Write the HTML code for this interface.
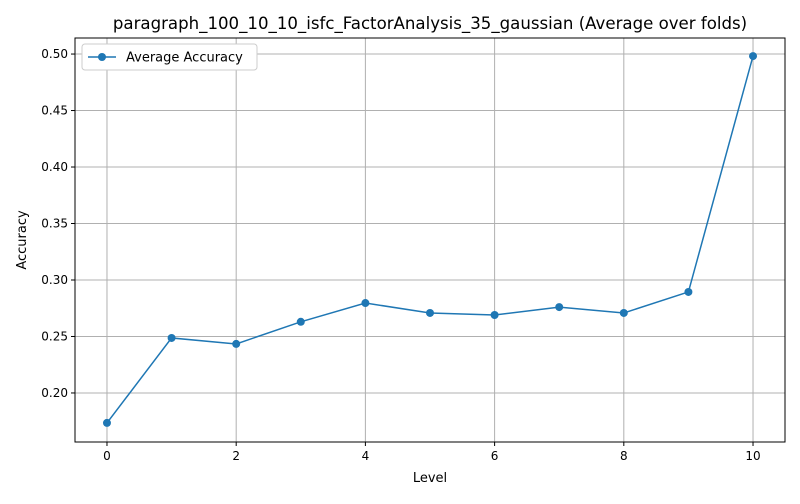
<!DOCTYPE html>
<html><head><meta charset="utf-8"><style>
body{margin:0;background:#fff;font-family:"DejaVu Sans","Liberation Sans",sans-serif;}
svg text{font-family:"DejaVu Sans","Liberation Sans",sans-serif;}
</style></head><body>
<svg id="chart" width="800" height="500">
<rect width="800" height="500" fill="#fff"/>
<g id="grid"></g><g id="axes"></g><g id="series"></g>
<text x="430" y="29" font-size="16.6" text-anchor="middle">paragraph_100_10_10_isfc_FactorAnalysis_35_gaussian (Average over folds)</text>
<text x="430" y="482" font-size="13" text-anchor="middle">Level</text>
<text x="26" y="240" font-size="13" text-anchor="middle" transform="rotate(-90 26 240)">Accuracy</text>
<g>
<rect x="82" y="44" width="175" height="26" fill="#fff" stroke="#ccc" rx="3"/>
<line x1="88" y1="57" x2="116" y2="57" stroke="#1f77b4" stroke-width="1.5"/>
<circle cx="102" cy="57" r="4" fill="#1f77b4"/>
<text x="126" y="61.5" font-size="13">Average Accuracy</text>
</g>
</svg>
<script>
const levels=[0,1,2,3,4,5,6,7,8,9,10];
const accuracy=[0.1735,0.2487,0.2434,0.263,0.2796,0.2708,0.269,0.276,0.2708,0.2894,0.4982];
const xTicks=[0,2,4,6,8,10];
const yTicks=[0.20,0.25,0.30,0.35,0.40,0.45,0.50];
const L=75,R=785,T=38,B=442,xmin=-0.495,xmax=10.495,ymin=0.1566,ymax=0.5142;
const sx=v=>L+(v-xmin)/(xmax-xmin)*(R-L);
const sy=v=>B-(v-ymin)/(ymax-ymin)*(B-T);
const NS="http://www.w3.org/2000/svg";
function mk(tag,attrs,parent){const e=document.createElementNS(NS,tag);for(const k in attrs)e.setAttribute(k,attrs[k]);parent.appendChild(e);return e;}
const grid=document.getElementById('grid'),axes=document.getElementById('axes'),ser=document.getElementById('series');
xTicks.forEach(t=>{const x=sx(t);
 const g=mk('line',{x1:x,x2:x,y1:T,y2:B,stroke:'#b0b0b0','stroke-width':1},grid);
 
 
 mk('line',{x1:x,x2:x,y1:B,y2:B+4,stroke:'#000'},axes);
 const tx=mk('text',{x:x,y:B+18,'font-size':12,'text-anchor':'middle'},axes);tx.textContent=t;
 
 });
yTicks.forEach(t=>{const y=sy(t);
 const g=mk('line',{x1:L,x2:R,y1:y,y2:y,stroke:'#b0b0b0','stroke-width':1},grid);
 
 
 mk('line',{x1:L-4,x2:L,y1:y,y2:y,stroke:'#000'},axes);
 const tx=mk('text',{x:L-7,y:y+4,'font-size':12,'text-anchor':'end'},axes);tx.textContent=t.toFixed(2);
 
 });
const frame=mk('rect',{x:L,y:T,width:R-L,height:B-T,fill:'none',stroke:'#000','stroke-width':1},axes);


const pl=mk('polyline',{points:levels.map((l,i)=>sx(l)+','+sy(accuracy[i])).join(' '),fill:'none',stroke:'#1f77b4','stroke-width':1.5},ser);


levels.forEach((l,i)=>{const c=mk('circle',{cx:sx(l),cy:sy(accuracy[i]),r:4,fill:'#1f77b4'},ser);
 
 });
</script>
</body></html>
